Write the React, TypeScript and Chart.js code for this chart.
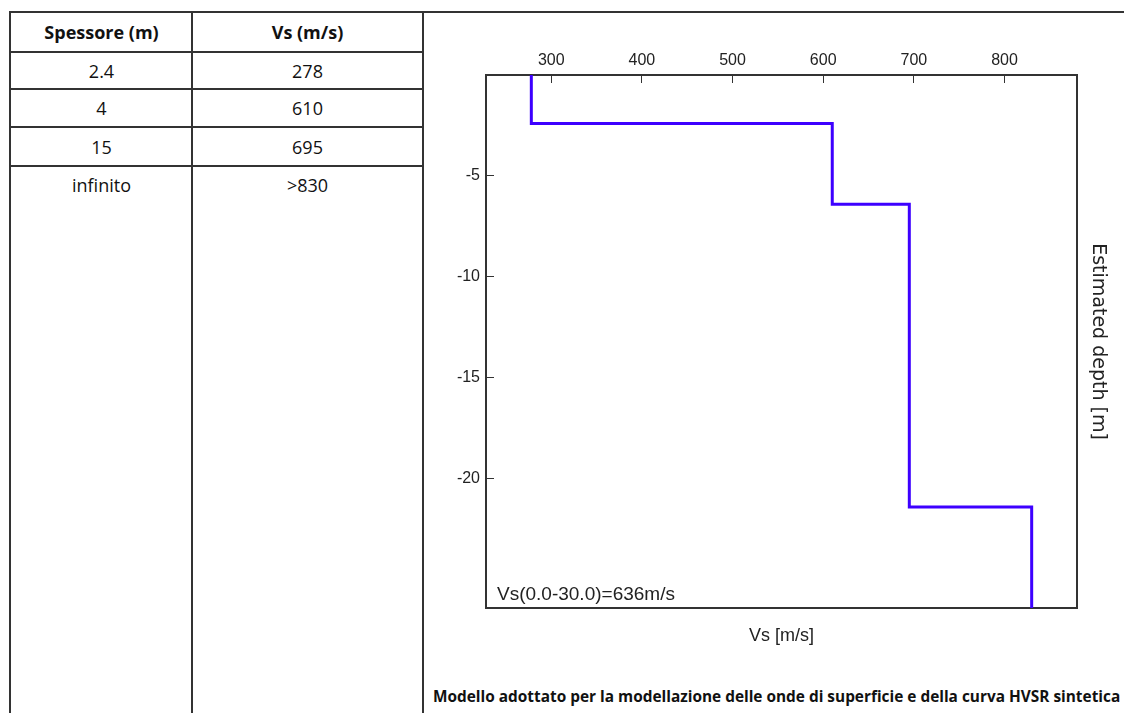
import React, { useEffect, useRef } from "react";
import { Chart, registerables } from "chart.js";

Chart.register(...registerables);

// ---- data ----
const layerThickness = [2.4, 4, 15]; // m (last layer is infinite)
const layerVs = [278, 610, 695, 830]; // m/s
const tableThickness = ["2.4", "4", "15", "infinito"];
const tableVs = ["278", "610", "695", ">830"];
const tableHeaders = ["Spessore (m)", "Vs (m/s)"];
const xTicks = [300, 400, 500, 600, 700, 800];
const yTicks = [-5, -10, -15, -20];
const xRange = [228, 880];
const yRange = [-26.4, 0];
const annotationText = "Vs(0.0-30.0)=636m/s";
const xTitle = "Vs [m/s]";
const yTitle = "Estimated depth [m]";
const caption =
  "Modello adottato per la modellazione delle onde di superficie e della curva HVSR sintetica";

const CHART_FONT = '"Liberation Sans", Arial, sans-serif';

function buildProfile() {
  const pts: { x: number; y: number }[] = [];
  let depth = 0;
  layerVs.forEach((v, i) => {
    const top = depth;
    const bottom = i < layerThickness.length ? depth + layerThickness[i] : -yRange[0];
    pts.push({ x: v, y: -top }, { x: v, y: -bottom });
    depth = bottom;
  });
  return pts;
}

const annotationPlugin = {
  id: "vsAnnotation",
  afterDatasetsDraw(chart: any) {
    const { ctx, chartArea } = chart;
    ctx.save();
    ctx.font = `19px ${CHART_FONT}`;
    ctx.fillStyle = "#222";
    ctx.textBaseline = "alphabetic";
    ctx.textAlign = "left";
    ctx.fillText(annotationText, chartArea.left + 11, chartArea.bottom - 8);
    ctx.restore();
  },
};

const lineColor = "#333";

function ProfileChart() {
  const ref = useRef<HTMLCanvasElement | null>(null);
  useEffect(() => {
    if (!ref.current) return;
    const chart = new Chart(ref.current, {
      type: "scatter",
      data: {
        datasets: [
          {
            data: buildProfile(),
            showLine: true,
            borderColor: "#3d00ff",
            borderWidth: 3,
            pointRadius: 0,
            fill: false,
            tension: 0,
          },
        ],
      },
      options: {
        responsive: false,
        animation: false,
        layout: { padding: 0 },
        plugins: {
          legend: { display: false },
          tooltip: { enabled: false },
          title: { display: false },
        },
        scales: {
          x: {
            type: "linear",
            position: "top",
            min: xRange[0],
            max: xRange[1],
            afterBuildTicks: (s: any) => {
              s.ticks = xTicks.map((v) => ({ value: v }));
            },
            afterFit: (s: any) => {
              s.height = 63;
            },
            grid: { drawOnChartArea: false, tickLength: -8, color: lineColor, lineWidth: 1 },
            border: { display: true, color: lineColor, width: 2 },
            ticks: {
              padding: 13,
              color: "#222",
              font: { family: CHART_FONT, size: 16 },
              maxRotation: 0,
            },
          },
          y: {
            type: "linear",
            position: "left",
            min: yRange[0],
            max: yRange[1],
            afterBuildTicks: (s: any) => {
              s.ticks = yTicks.map((v) => ({ value: v }));
            },
            afterFit: (s: any) => {
              s.width = 62;
            },
            grid: { drawOnChartArea: false, tickLength: -8, color: lineColor, lineWidth: 1 },
            border: { display: true, color: lineColor, width: 2 },
            ticks: {
              padding: 14,
              color: "#222",
              font: { family: CHART_FONT, size: 16 },
            },
          },
          x2: {
            type: "linear",
            position: "bottom",
            min: xRange[0],
            max: xRange[1],
            afterFit: (s: any) => {
              s.height = 44;
            },
            grid: { display: false },
            border: { display: true, color: lineColor, width: 2 },
            ticks: { display: false },
            title: {
              display: true,
              text: xTitle,
              color: "#222",
              font: { family: CHART_FONT, size: 18 },
              padding: { top: 0, bottom: 5 },
            },
          },
          y2: {
            type: "linear",
            position: "right",
            min: yRange[0],
            max: yRange[1],
            afterFit: (s: any) => {
              s.width = 47;
            },
            grid: { display: false },
            border: { display: true, color: lineColor, width: 2 },
            ticks: { display: false },
            title: {
              display: true,
              text: yTitle,
              color: "#222",
              font: { family: '"DejaVu Sans", Verdana, sans-serif', size: 19 },
              padding: { top: 15, bottom: 0 },
            },
          },
        },
      } as any,
      plugins: [annotationPlugin],
    });
    return () => chart.destroy();
  }, []);
  return (
    <canvas
      ref={ref}
      width={700}
      height={640}
      style={{ position: "absolute", left: 424, top: 12, width: 700, height: 640 }}
    />
  );
}

const TABLE_FONT = '"Open Sans", "Noto Sans", sans-serif';
const rowBounds = [12, 52, 89, 127, 166, 204];
const colBounds = [11, 192, 423];

function Line(props: { left: number; top: number; width: number; height: number }) {
  return (
    <div
      style={{
        position: "absolute",
        left: props.left,
        top: props.top,
        width: props.width,
        height: props.height,
        background: "#333",
      }}
    />
  );
}

export default function App() {
  const rows = [tableHeaders, ...tableThickness.map((t, i) => [t, tableVs[i]])];
  return (
    <div
      style={{
        position: "absolute",
        left: 0,
        top: 0,
        width: 1124,
        height: 713,
        overflow: "hidden",
        background: "#fff",
      }}
    >
      {/* table lines */}
      <Line left={9} top={11} width={1115} height={2} />
      <Line left={9} top={11} width={2} height={702} />
      <Line left={191} top={11} width={2} height={702} />
      <Line left={422} top={11} width={2} height={702} />
      {[52, 89, 127, 166].map((y) => (
        <Line key={y} left={9} top={y - 1} width={415} height={2} />
      ))}
      {rows.map((r, ri) =>
        r.map((txt, ci) => (
          <div
            key={`${ri}-${ci}`}
            style={{
              position: "absolute",
              left: colBounds[ci],
              width: colBounds[ci + 1] - colBounds[ci],
              top: rowBounds[ri],
              height: rowBounds[ri + 1] - rowBounds[ri],
              display: "flex",
              alignItems: "center",
              justifyContent: "center",
              fontFamily: TABLE_FONT,
              fontSize: 18,
              fontWeight: ri === 0 ? 700 : 400,
              color: "#111",
              lineHeight: 1,
            }}
          >
            {txt}
          </div>
        ))
      )}
      <ProfileChart />
      <div
        style={{
          position: "absolute",
          left: 433,
          top: 687,
          fontFamily: TABLE_FONT,
          fontSize: 15.4,
          fontWeight: 700,
          color: "#111",
          whiteSpace: "nowrap",
          lineHeight: "20px",
        }}
      >
        {caption}
      </div>
    </div>
  );
}
